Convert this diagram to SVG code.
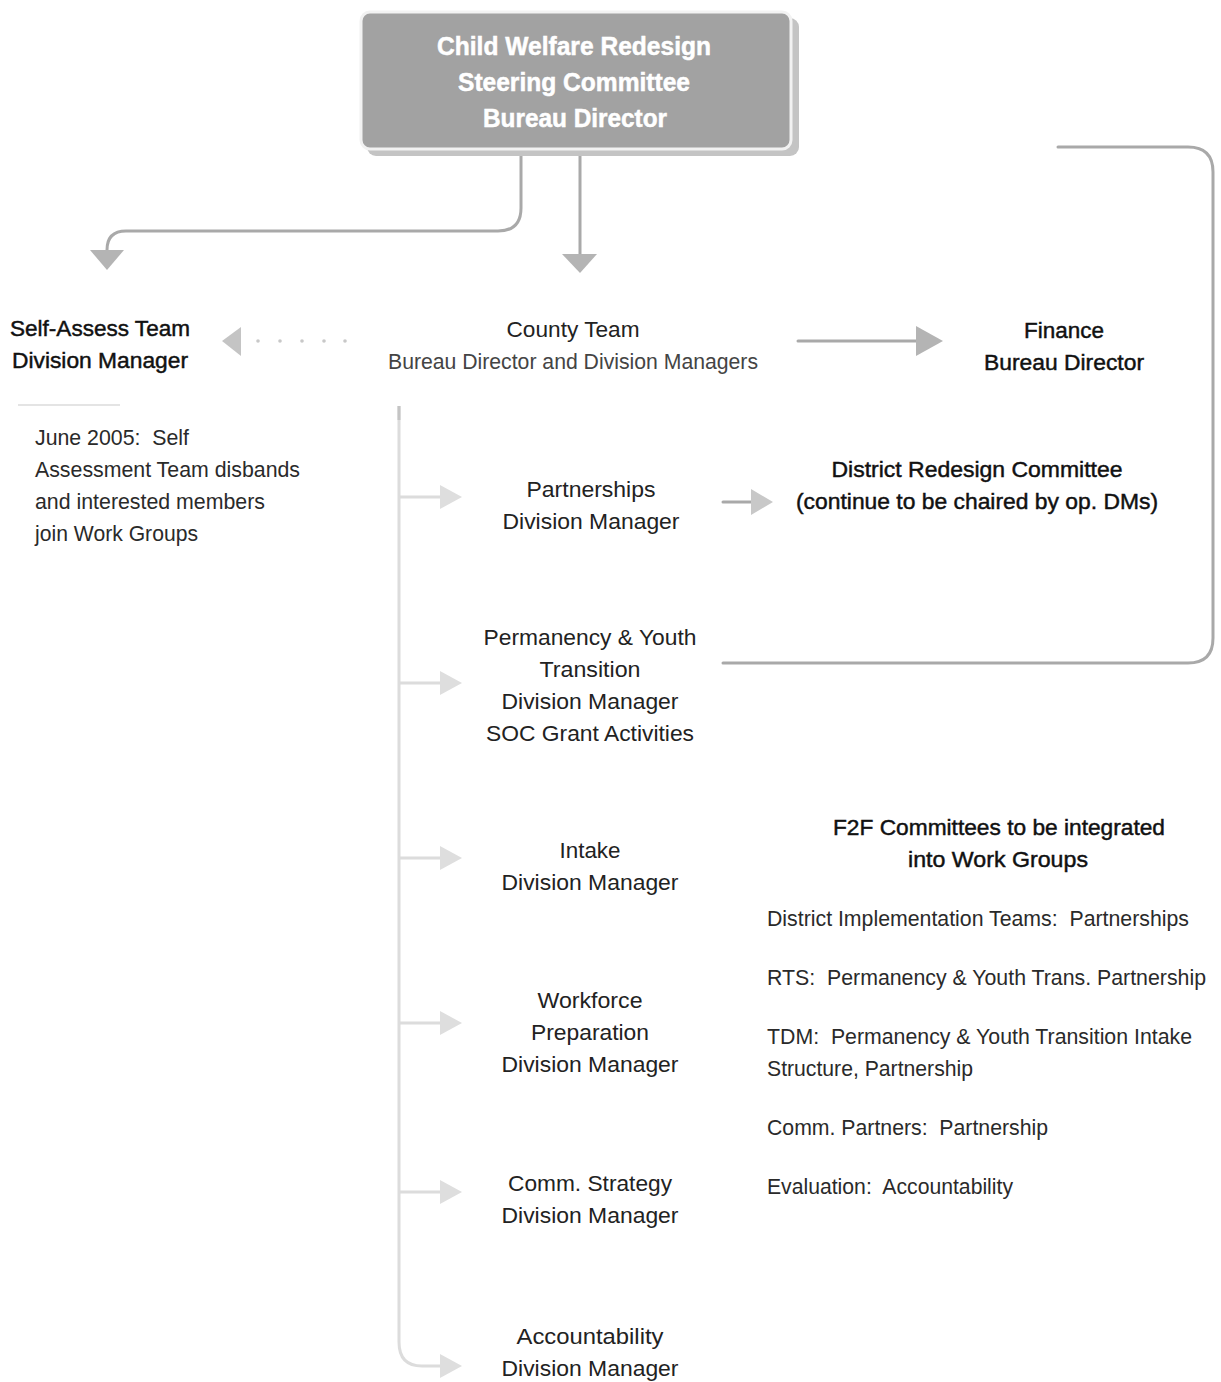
<svg xmlns="http://www.w3.org/2000/svg" width="1221" height="1382" viewBox="0 0 1221 1382">
<style>
  text { font-family: "Liberation Sans", Arial, sans-serif; fill: #222; font-size: 22px; white-space: pre; }
  .c { text-anchor: middle; }
  .top { fill: #ffffff; font-weight: bold; font-size: 25px; text-anchor: middle; stroke: #ffffff; stroke-width: 0.5; }
  .dk { fill: #111; stroke: #111; stroke-width: 0.45; }
  .thin { fill: #2a2a2a; }
  .conn { fill: none; stroke: #a9a9a9; stroke-width: 3; stroke-linecap: round; }
  .faint { fill: none; stroke: #dcdcdc; stroke-width: 3; }
  .ah { fill: #b4b4b4; }
  .ahf { fill: #dedede; }
</style>
<rect width="1221" height="1382" fill="#ffffff"/>

<g id="connectors">
  <path class="conn" d="M521 156 V208 Q521 231 498 231 H126 Q107 231 107 250 V252"/>
  <polygon class="ah" points="90,250 124,250 107,270"/>
  <path class="conn" d="M580 156 V254"/>
  <polygon class="ah" points="562,254 597,254 580,273"/>
  <path class="conn" d="M1058 147 H1188 Q1213 147 1213 172 V638 Q1213 663 1188 663 H723"/>
  <path class="conn" d="M798 341 H918" stroke="#b5b5b5"/>
  <polygon class="ah" points="916,326 943,341 916,356"/>
  <g fill="#c8c8c8">
    <circle cx="258" cy="341" r="1.8"/>
    <circle cx="280" cy="341" r="1.8"/>
    <circle cx="302" cy="341" r="1.8"/>
    <circle cx="324" cy="341" r="1.8"/>
    <circle cx="345" cy="341" r="1.8"/>
  </g>
  <polygon points="241,327 222,341 241,356" fill="#c4c4c4"/>
  <path class="conn" d="M723 502 H752"/>
  <polygon points="751,489 773,502 751,515" fill="#c8c8c8"/>
  <path class="faint" d="M399 406 V1342 Q399 1366 422 1366 H440" stroke="#d6d6d6"/>
  <path d="M399 406 V420" stroke="#c4c4c4" stroke-width="3"/>
  <path class="faint" d="M399 497 H442"/>
  <polygon class="ahf" points="440,485 462,497 440,509"/>
  <path class="faint" d="M399 683 H442"/>
  <polygon class="ahf" points="440,671 462,683 440,695"/>
  <path class="faint" d="M399 858 H442"/>
  <polygon class="ahf" points="440,846 462,858 440,870"/>
  <path class="faint" d="M399 1023 H442"/>
  <polygon class="ahf" points="440,1011 462,1023 440,1035"/>
  <path class="faint" d="M399 1192 H442"/>
  <polygon class="ahf" points="440,1180 462,1192 440,1204"/>
  <polygon class="ahf" points="440,1354 462,1366 440,1378"/>
  <path d="M18 405 H120" stroke="#e4e4e4" stroke-width="2"/>
</g>

<g id="steering">
  <rect x="367" y="18" width="432" height="138" rx="9" fill="#c4c4c4"/>
  <rect x="361" y="12" width="430" height="137" rx="9" fill="#a2a2a2" stroke="#f2f2f2" stroke-width="3"/>
  <text class="top" x="574" y="55" textLength="274" lengthAdjust="spacingAndGlyphs">Child Welfare Redesign</text>
  <text class="top" x="574" y="91" textLength="232" lengthAdjust="spacingAndGlyphs">Steering Committee</text>
  <text class="top" x="575" y="127" textLength="184" lengthAdjust="spacingAndGlyphs">Bureau Director</text>
</g>

<g id="self-assess">
  <text class="c dk" x="100" y="336" textLength="180" lengthAdjust="spacingAndGlyphs">Self-Assess Team</text>
  <text class="c dk" x="100" y="368" textLength="176" lengthAdjust="spacingAndGlyphs">Division Manager</text>
</g>

<g id="self-assess-note">
  <text class="thin" x="35" y="445" textLength="154" lengthAdjust="spacingAndGlyphs">June 2005:  Self</text>
  <text class="thin" x="35" y="477" textLength="265" lengthAdjust="spacingAndGlyphs">Assessment Team disbands</text>
  <text class="thin" x="35" y="509" textLength="230" lengthAdjust="spacingAndGlyphs">and interested members</text>
  <text class="thin" x="35" y="541" textLength="163" lengthAdjust="spacingAndGlyphs">join Work Groups</text>
</g>

<g id="county">
  <text class="c" x="573" y="337" textLength="133" lengthAdjust="spacingAndGlyphs">County Team</text>
  <text class="c" x="573" y="369" textLength="370" lengthAdjust="spacingAndGlyphs" style="fill:#444">Bureau Director and Division Managers</text>
</g>

<g id="finance">
  <text class="c dk" x="1064" y="338" textLength="80" lengthAdjust="spacingAndGlyphs">Finance</text>
  <text class="c dk" x="1064" y="370" textLength="160" lengthAdjust="spacingAndGlyphs">Bureau Director</text>
</g>

<g id="district">
  <text class="c dk" x="977" y="477" textLength="291" lengthAdjust="spacingAndGlyphs">District Redesign Committee</text>
  <text class="c dk" x="977" y="509" textLength="362" lengthAdjust="spacingAndGlyphs">(continue to be chaired by op. DMs)</text>
</g>

<g id="partnerships">
  <text class="c" x="591" y="497" textLength="129" lengthAdjust="spacingAndGlyphs">Partnerships</text>
  <text class="c" x="591" y="529" textLength="177" lengthAdjust="spacingAndGlyphs">Division Manager</text>
</g>

<g id="permanency">
  <text class="c" x="590" y="645" textLength="213" lengthAdjust="spacingAndGlyphs">Permanency &amp; Youth</text>
  <text class="c" x="590" y="677" textLength="101" lengthAdjust="spacingAndGlyphs">Transition</text>
  <text class="c" x="590" y="709" textLength="177" lengthAdjust="spacingAndGlyphs">Division Manager</text>
  <text class="c" x="590" y="741" textLength="208" lengthAdjust="spacingAndGlyphs">SOC Grant Activities</text>
</g>

<g id="intake">
  <text class="c" x="590" y="858" textLength="61" lengthAdjust="spacingAndGlyphs">Intake</text>
  <text class="c" x="590" y="890" textLength="177" lengthAdjust="spacingAndGlyphs">Division Manager</text>
</g>

<g id="workforce">
  <text class="c" x="590" y="1008" textLength="105" lengthAdjust="spacingAndGlyphs">Workforce</text>
  <text class="c" x="590" y="1040" textLength="118" lengthAdjust="spacingAndGlyphs">Preparation</text>
  <text class="c" x="590" y="1072" textLength="177" lengthAdjust="spacingAndGlyphs">Division Manager</text>
</g>

<g id="comm-strategy">
  <text class="c" x="590" y="1191" textLength="164" lengthAdjust="spacingAndGlyphs">Comm. Strategy</text>
  <text class="c" x="590" y="1223" textLength="177" lengthAdjust="spacingAndGlyphs">Division Manager</text>
</g>

<g id="accountability">
  <text class="c" x="590" y="1344" textLength="147" lengthAdjust="spacingAndGlyphs">Accountability</text>
  <text class="c" x="590" y="1376" textLength="177" lengthAdjust="spacingAndGlyphs">Division Manager</text>
</g>

<g id="f2f">
  <text class="c dk" x="999" y="835" textLength="332" lengthAdjust="spacingAndGlyphs">F2F Committees to be integrated</text>
  <text class="c dk" x="998" y="867" textLength="180" lengthAdjust="spacingAndGlyphs">into Work Groups</text>
  <text class="thin" x="767" y="926" textLength="422" lengthAdjust="spacingAndGlyphs">District Implementation Teams:  Partnerships</text>
  <text class="thin" x="767" y="985" textLength="439" lengthAdjust="spacingAndGlyphs">RTS:  Permanency &amp; Youth Trans. Partnership</text>
  <text class="thin" x="767" y="1044" textLength="425" lengthAdjust="spacingAndGlyphs">TDM:  Permanency &amp; Youth Transition Intake</text>
  <text class="thin" x="767" y="1076" textLength="206" lengthAdjust="spacingAndGlyphs">Structure, Partnership</text>
  <text class="thin" x="767" y="1135" textLength="281" lengthAdjust="spacingAndGlyphs">Comm. Partners:  Partnership</text>
  <text class="thin" x="767" y="1194" textLength="246" lengthAdjust="spacingAndGlyphs">Evaluation:  Accountability</text>
</g>
</svg>
